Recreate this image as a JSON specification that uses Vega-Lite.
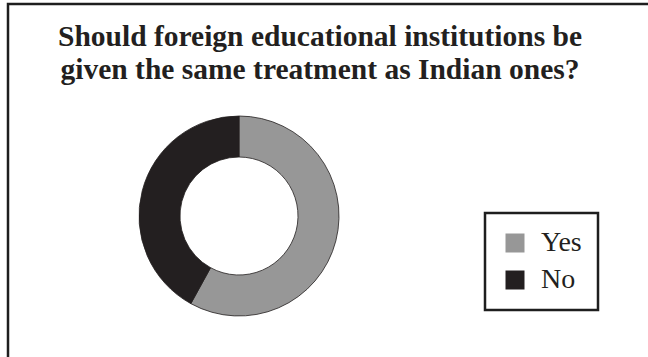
{
  "$schema": "https://vega.github.io/schema/vega-lite/v6.json",
  "padding": {"left": 6, "top": 2, "right": 0, "bottom": 0},
  "background": "white",
  "bounds": "flush",
  "spacing": 0,
  "title": {
    "text": ["Should foreign educational institutions be", "given the same treatment as Indian ones?"],
    "font": "Liberation Serif",
    "fontSize": 29.5,
    "fontWeight": "bold",
    "color": "#231f20",
    "lineHeight": 33,
    "baseline": "alphabetic",
    "anchor": "middle",
    "offset": -106,
    "dx": -69
  },
  "config": {"view": {"stroke": null}, "legend": {"strokeWidth": 2.5}},
  "hconcat": [
    {
      "width": 462,
      "height": 424,
      "view": {"stroke": "#1e1e1e", "strokeWidth": 2.5, "strokeDash": [462, 886, 424, 10000]},
      "data": {"values": [
        {"answer": "Yes", "percent": 58},
        {"answer": "No", "percent": 42}
      ]},
      "mark": {"type": "arc", "outerRadius": 100, "innerRadius": 59, "stroke": "#231f20", "strokeWidth": 0.8},
      "encoding": {
        "theta": {"field": "percent", "type": "quantitative"},
        "order": {"field": "answer", "sort": "descending"},
        "color": {
          "field": "answer",
          "type": "nominal",
          "scale": {"domain": ["Yes", "No"], "range": ["#979797", "#231f20"]},
          "legend": {
            "title": null,
            "orient": "none",
            "legendX": 477,
            "legendY": 209,
            "padding": 16,
            "strokeColor": "#1e1e1e",
            "symbolType": "square",
            "symbolSize": 361,
            "symbolStrokeWidth": 0,
            "symbolOpacity": 1,
            "symbolOffset": 0,
            "labelFont": "Liberation Serif",
            "labelFontSize": 28,
            "labelColor": "#231f20",
            "labelOffset": 12,
            "rowPadding": 9
          }
        }
      }
    },
    {
      "width": 300,
      "height": 424,
      "view": {"stroke": "#1e1e1e", "strokeWidth": 2.5, "strokeDash": [300, 10000]},
      "data": {"values": []},
      "mark": "point",
      "encoding": {}
    }
  ]
}
